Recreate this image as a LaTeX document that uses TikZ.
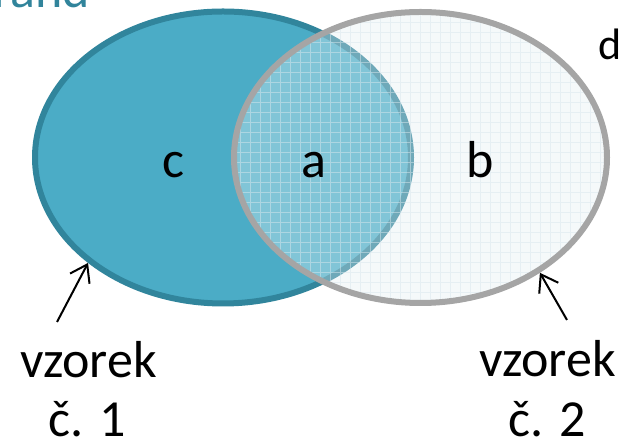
\documentclass[tikz,border=0pt]{standalone}
\usepackage{fontspec}
\setmainfont{Carlito}
\usetikzlibrary{arrows.meta,shapes.geometric}
\definecolor{AquaFill}{HTML}{4BACC6}
\definecolor{AquaLine}{HTML}{31859C}
\definecolor{AquaText}{HTML}{31849B}
\definecolor{SampleGray}{HTML}{A5A5A5}
\definecolor{PaleFill}{HTML}{F2F7F9}
\definecolor{PaleGrid}{HTML}{D9E7ED}

\tikzset{
  sample/.style={ellipse,line width=3pt,inner sep=0pt},
  areatext/.style={font=\fontsize{26}{30}\selectfont,anchor=base},
  sampletext/.style={font=\fontsize{26}{30}\selectfont,anchor=base,inner sep=0pt},
}

\begin{document}
\begin{tikzpicture}[x=0.5pt,y=0.5pt,>={Straight Barb[length=8pt,width=11pt]}]
      \useasboundingbox (0,0) rectangle (621,443);
      % second sample, fill only (border comes last)
      \fill[PaleFill] (420.5,285.5) ellipse (93.25pt and 72.75pt);
      % first sample
      \node[sample,draw=AquaLine,fill=AquaFill,minimum width=188pt,minimum height=146pt] (s1) at (223,285.5) {};
      % overlap gets lighter, grid over the whole second sample
      \begin{scope}
        \clip (420.5,285.5) ellipse (93.25pt and 72.75pt);
        \fill[white,opacity=0.3] (230,130) rectangle (610,440);
        \draw[PaleGrid,line width=0.5pt,opacity=0.5,step=10] (230,130) grid (610,440);
      \end{scope}
      \node[sample,draw=SampleGray,minimum width=186.5pt,minimum height=145.5pt] (s2) at (420.5,285.5) {};

      \node[areatext] (c) at (173,265) {c};
      \node[areatext] (a) at (314,265) {a};
      \node[areatext] (b) at (480,265) {b};
      \node[font=\fontsize{22}{26}\selectfont,anchor=base west,inner sep=0pt] (d) at (598,383) {d};
      \node[font=\fontsize{26}{30}\selectfont,anchor=base east,AquaText] (rand) at (97,435) {rand};

      \node[sampletext] (v1) at (88.5,65) {vzorek};
      \node[sampletext] (n1) at (87,6) {č. 1};
      \node[sampletext] (v2) at (547.5,66) {vzorek};
      \node[sampletext] (n2) at (547.5,6) {č. 2};

      \coordinate (t1) at (57,121);
      \coordinate (t2) at (567,123);
      \draw[->,line width=1pt] (t1) -- (s1.218);
      \draw[->,line width=1pt] (t2) -- (s2.316);
    \end{tikzpicture}
\end{document}
